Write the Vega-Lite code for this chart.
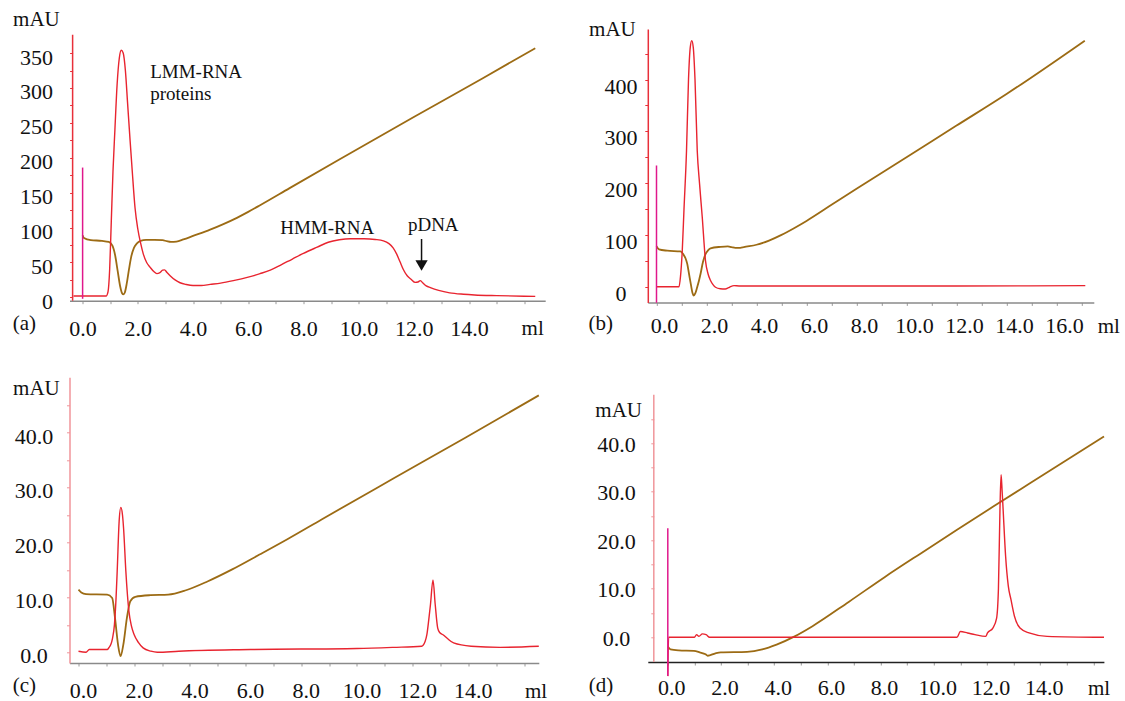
{
  "$schema": "https://vega.github.io/schema/vega-lite/v6.json",
  "padding": {"left": 12.5, "top": 8, "right": 0, "bottom": 0},
  "bounds": "flush",
  "columns": 2,
  "spacing": {"row": 74.3, "column": 102.3},
  "config": {
    "view": {"stroke": null},
    "font": "Liberation Serif",
    "text": {"font": "Liberation Serif"},
    "axis": {
      "grid": false, "labelFont": "Liberation Serif", "labelFontSize": 22, "labelColor": "#111111",
      "titleFont": "Liberation Serif", "titleFontSize": 21, "titleFontWeight": "normal", "titleColor": "#111111",
      "labelOverlap": false, "labelFlush": false, "labelBound": false, "tickSize": 3, "tickWidth": 1
    },
    "axisX": {"domainColor": "#8a8a8a", "domainWidth": 1.5, "tickColor": "#9a9a9a", "labelAlign": "center", "labelBaseline": "alphabetic", "titleAlign": "center", "titleBaseline": "alphabetic"},
    "axisY": {"domainColor": "#e8303a", "domainWidth": 1.5, "tickColor": "#e8303a", "labelBaseline": "middle", "titleAngle": 0, "titleAlign": "center", "titleBaseline": "alphabetic"}
  },
  "datasets": {
    "aU": [
      {"x": -0.33, "y": 2}, {"x": 0.85, "y": 2}, {"x": 0.92, "y": 8}, {"x": 0.98, "y": 40}, {"x": 1.04, "y": 110}, {"x": 1.1, "y": 180}, {"x": 1.17, "y": 240}, {"x": 1.25, "y": 305}, {"x": 1.33, "y": 343}, {"x": 1.4, "y": 354}, {"x": 1.47, "y": 350}, {"x": 1.55, "y": 325}, {"x": 1.63, "y": 278}, {"x": 1.72, "y": 225}, {"x": 1.8, "y": 180}, {"x": 1.9, "y": 128}, {"x": 2.0, "y": 98}, {"x": 2.1, "y": 78}, {"x": 2.2, "y": 62}, {"x": 2.32, "y": 50}, {"x": 2.45, "y": 43}, {"x": 2.58, "y": 37}, {"x": 2.69, "y": 34}, {"x": 2.8, "y": 35.5}, {"x": 2.9, "y": 39}, {"x": 2.97, "y": 39.5}, {"x": 3.05, "y": 36}, {"x": 3.17, "y": 31}, {"x": 3.35, "y": 25}, {"x": 3.53, "y": 21}, {"x": 3.75, "y": 18.5}, {"x": 4.0, "y": 17}, {"x": 4.3, "y": 17}, {"x": 4.62, "y": 18.6}, {"x": 5.0, "y": 20.5}, {"x": 5.46, "y": 24}, {"x": 6.0, "y": 29}, {"x": 6.43, "y": 34}, {"x": 6.8, "y": 39}, {"x": 7.16, "y": 46}, {"x": 7.6, "y": 55}, {"x": 8.0, "y": 63}, {"x": 8.5, "y": 72}, {"x": 8.9, "y": 79}, {"x": 9.3, "y": 82.5}, {"x": 9.7, "y": 84}, {"x": 10.2, "y": 84}, {"x": 10.6, "y": 83}, {"x": 10.9, "y": 81}, {"x": 11.1, "y": 77}, {"x": 11.25, "y": 71}, {"x": 11.38, "y": 62}, {"x": 11.5, "y": 51}, {"x": 11.62, "y": 40}, {"x": 11.76, "y": 31}, {"x": 11.9, "y": 26}, {"x": 12.05, "y": 21.5}, {"x": 12.15, "y": 22}, {"x": 12.23, "y": 24}, {"x": 12.32, "y": 21}, {"x": 12.45, "y": 16.5}, {"x": 12.6, "y": 14}, {"x": 12.9, "y": 10}, {"x": 13.3, "y": 6.5}, {"x": 13.8, "y": 4.5}, {"x": 14.2, "y": 3.5}, {"x": 15.0, "y": 2.5}, {"x": 16.4, "y": 1.5}
    ],
    "aC": [
      {"x": 0, "y": 89}, {"x": 0.05, "y": 85}, {"x": 0.3, "y": 82}, {"x": 0.7, "y": 81}, {"x": 0.95, "y": 79.5}, {"x": 1.08, "y": 74}, {"x": 1.18, "y": 60}, {"x": 1.27, "y": 38}, {"x": 1.36, "y": 16}, {"x": 1.43, "y": 6}, {"x": 1.48, "y": 4.3}, {"x": 1.53, "y": 7}, {"x": 1.6, "y": 20}, {"x": 1.68, "y": 40}, {"x": 1.76, "y": 58}, {"x": 1.86, "y": 71}, {"x": 1.96, "y": 77}, {"x": 2.1, "y": 81}, {"x": 2.3, "y": 82.5}, {"x": 2.6, "y": 82.5}, {"x": 2.9, "y": 82}, {"x": 3.05, "y": 80.5}, {"x": 3.2, "y": 79.5}, {"x": 3.4, "y": 80}, {"x": 3.65, "y": 83}, {"x": 4.0, "y": 88}, {"x": 4.62, "y": 97}, {"x": 5.1, "y": 105}, {"x": 5.59, "y": 114}, {"x": 6.0, "y": 122.5}, {"x": 6.43, "y": 132}, {"x": 7.5, "y": 156.5}, {"x": 9.3, "y": 197.5}, {"x": 12.0, "y": 258.5}, {"x": 14.5, "y": 314}, {"x": 16.4, "y": 357}
    ],
    "bU": [
      {"x": 0, "y": 0}, {"x": 0.9, "y": 0}, {"x": 0.96, "y": 20}, {"x": 1.03, "y": 69}, {"x": 1.1, "y": 150}, {"x": 1.2, "y": 262}, {"x": 1.28, "y": 400}, {"x": 1.35, "y": 462}, {"x": 1.41, "y": 475}, {"x": 1.47, "y": 462}, {"x": 1.54, "y": 400}, {"x": 1.63, "y": 262}, {"x": 1.72, "y": 200}, {"x": 1.83, "y": 134}, {"x": 1.96, "y": 50}, {"x": 2.06, "y": 25}, {"x": 2.16, "y": 12}, {"x": 2.26, "y": 4}, {"x": 2.36, "y": -1}, {"x": 2.55, "y": -4}, {"x": 2.75, "y": -4.5}, {"x": 2.88, "y": -2}, {"x": 2.96, "y": 0}, {"x": 3.1, "y": 2}, {"x": 3.3, "y": 1.5}, {"x": 6, "y": 1.5}, {"x": 12, "y": 1.5}, {"x": 17.15, "y": 2}
    ],
    "bC": [
      {"x": 0, "y": 78}, {"x": 0.1, "y": 72}, {"x": 0.43, "y": 69.5}, {"x": 0.96, "y": 68}, {"x": 1.08, "y": 62}, {"x": 1.16, "y": 55}, {"x": 1.23, "y": 44}, {"x": 1.3, "y": 25}, {"x": 1.38, "y": 3}, {"x": 1.44, "y": -12}, {"x": 1.49, "y": -17}, {"x": 1.55, "y": -13}, {"x": 1.62, "y": -2}, {"x": 1.7, "y": 12}, {"x": 1.76, "y": 24.5}, {"x": 1.86, "y": 48}, {"x": 1.96, "y": 63}, {"x": 2.06, "y": 70}, {"x": 2.16, "y": 74}, {"x": 2.56, "y": 77}, {"x": 2.85, "y": 78}, {"x": 3.0, "y": 76.5}, {"x": 3.15, "y": 75}, {"x": 3.35, "y": 75}, {"x": 3.49, "y": 76.5}, {"x": 4.0, "y": 81}, {"x": 4.5, "y": 89}, {"x": 5.0, "y": 100}, {"x": 5.5, "y": 113}, {"x": 6.0, "y": 127}, {"x": 7.0, "y": 158}, {"x": 8.0, "y": 189}, {"x": 10.0, "y": 250}, {"x": 12.0, "y": 311}, {"x": 14.0, "y": 372}, {"x": 17.13, "y": 475}
    ],
    "cU": [
      {"x": 0, "y": 0.2}, {"x": 0.27, "y": 0}, {"x": 0.39, "y": 0.5}, {"x": 1.03, "y": 0.5}, {"x": 1.1, "y": 0.9}, {"x": 1.16, "y": 1.4}, {"x": 1.22, "y": 2.5}, {"x": 1.29, "y": 5.0}, {"x": 1.35, "y": 10}, {"x": 1.39, "y": 14.8}, {"x": 1.46, "y": 23.9}, {"x": 1.52, "y": 26.4}, {"x": 1.58, "y": 25}, {"x": 1.62, "y": 22.5}, {"x": 1.7, "y": 14.8}, {"x": 1.81, "y": 7.5}, {"x": 1.9, "y": 4.8}, {"x": 2.0, "y": 3.2}, {"x": 2.15, "y": 1.8}, {"x": 2.32, "y": 0.8}, {"x": 2.6, "y": 0.2}, {"x": 2.83, "y": 0}, {"x": 3.6, "y": 0.2}, {"x": 6.17, "y": 0.5}, {"x": 10.0, "y": 0.7}, {"x": 11.3, "y": 0.9}, {"x": 12.32, "y": 1.1}, {"x": 12.45, "y": 2.0}, {"x": 12.51, "y": 3.2}, {"x": 12.58, "y": 6}, {"x": 12.64, "y": 8.7}, {"x": 12.73, "y": 13.2}, {"x": 12.81, "y": 8.7}, {"x": 12.9, "y": 4.4}, {"x": 12.97, "y": 3.6}, {"x": 13.09, "y": 3.2}, {"x": 13.25, "y": 2.5}, {"x": 13.47, "y": 1.7}, {"x": 14.1, "y": 1.1}, {"x": 15.14, "y": 0.9}, {"x": 16.53, "y": 1.1}
    ],
    "cC": [
      {"x": 0, "y": 11.4}, {"x": 0.1, "y": 10.9}, {"x": 0.27, "y": 10.6}, {"x": 1.03, "y": 10.5}, {"x": 1.21, "y": 9.9}, {"x": 1.31, "y": 6.3}, {"x": 1.42, "y": 1.4}, {"x": 1.51, "y": -0.7}, {"x": 1.61, "y": 1.4}, {"x": 1.74, "y": 6.3}, {"x": 1.86, "y": 9.3}, {"x": 2.04, "y": 10.1}, {"x": 2.58, "y": 10.4}, {"x": 3.22, "y": 10.5}, {"x": 3.86, "y": 11.3}, {"x": 4.63, "y": 12.9}, {"x": 5.52, "y": 15.1}, {"x": 6.5, "y": 17.8}, {"x": 7.5, "y": 20.6}, {"x": 8.73, "y": 24.2}, {"x": 11.29, "y": 31.6}, {"x": 13.86, "y": 39.0}, {"x": 16.53, "y": 46.8}
    ],
    "dU": [
      {"x": 0, "y": -8}, {"x": 0.03, "y": 0}, {"x": 1.0, "y": 0}, {"x": 1.08, "y": 0.55}, {"x": 1.17, "y": 0.2}, {"x": 1.3, "y": 0.7}, {"x": 1.44, "y": 0.55}, {"x": 1.57, "y": 0}, {"x": 10.87, "y": 0}, {"x": 11.0, "y": 1.2}, {"x": 11.27, "y": 0.9}, {"x": 11.55, "y": 0.55}, {"x": 11.95, "y": 0.2}, {"x": 12.02, "y": 0.9}, {"x": 12.22, "y": 1.9}, {"x": 12.36, "y": 3.9}, {"x": 12.43, "y": 10}, {"x": 12.49, "y": 27}, {"x": 12.53, "y": 33.5}, {"x": 12.57, "y": 30}, {"x": 12.6, "y": 27}, {"x": 12.7, "y": 16.7}, {"x": 12.8, "y": 10.6}, {"x": 12.9, "y": 7.8}, {"x": 13.03, "y": 4.4}, {"x": 13.24, "y": 1.9}, {"x": 13.58, "y": 0.9}, {"x": 14.26, "y": 0.2}, {"x": 16.4, "y": 0}
    ],
    "dC": [
      {"x": 0, "y": -1.9}, {"x": 0.1, "y": -2.5}, {"x": 0.41, "y": -2.7}, {"x": 0.98, "y": -2.8}, {"x": 1.2, "y": -3.1}, {"x": 1.42, "y": -3.5}, {"x": 1.5, "y": -3.8}, {"x": 1.79, "y": -3.3}, {"x": 1.99, "y": -3.1}, {"x": 2.98, "y": -3.0}, {"x": 3.55, "y": -2.5}, {"x": 4.09, "y": -1.5}, {"x": 4.77, "y": 0.2}, {"x": 5.44, "y": 2.3}, {"x": 6.8, "y": 7.3}, {"x": 8.15, "y": 12.4}, {"x": 9.51, "y": 17.3}, {"x": 10.86, "y": 22.1}, {"x": 12.22, "y": 26.9}, {"x": 13.57, "y": 31.6}, {"x": 16.4, "y": 41.4}
    ]
  },
  "concat": [
    {
      "width": 475.7, "height": 271.7,
      "layer": [
        {"data": {"name": "aC"}, "mark": {"type": "line", "color": "#9c6b14", "strokeWidth": 1.8, "interpolate": "monotone"},
         "encoding": {
           "x": {"field": "x", "type": "quantitative", "scale": {"domain": [-0.475, 16.76], "nice": false, "zero": false},
                 "axis": {"title": "ml", "titleX": 462.7, "titleY": 34, "titleFontSize": 21, "labelFontSize": 22, "labelOverlap": false, "tickCount": 100, "values": [0,1,2,3,4,5,6,7,8,9,10,11,12,13,14,15,16], "format": ".1f", "labelExpr": "datum.value % 2 === 0 && datum.value <= 14 ? datum.label : ''", "labelPadding": 32, "labelOffset": 0}},
           "y": {"field": "y", "type": "quantitative", "scale": {"domain": [-4.73, 384.5], "nice": false, "zero": false},
                 "axis": {"title": "mAU", "titleX": -36.7, "titleY": -3.3, "titleFontSize": 21, "labelFontSize": 22, "labelOverlap": false, "tickCount": 100, "offset": -3.1, "domain": false, "values": [0,25,50,75,100,125,150,175,200,225,250,275,300,325,350], "labelExpr": "datum.value % 50 === 0 ? datum.label : ''", "labelAlign": "right", "labelPadding": 17, "labelOffset": 4}}
         }},
        {"data": {"name": "aU"}, "mark": {"type": "line", "color": "#e8242f", "strokeWidth": 1.4, "interpolate": "monotone"},
         "encoding": {"x": {"field": "x", "type": "quantitative"}, "y": {"field": "y", "type": "quantitative"}}},
        {"data": {"values": [{"x": 0, "y": -2, "y2": 186}]}, "mark": {"type": "rule", "color": "#e0188c", "strokeWidth": 1.5},
         "encoding": {"x": {"field": "x", "type": "quantitative"}, "y": {"field": "y", "type": "quantitative"}, "y2": {"field": "y2"}}},
        {"data": {"values": [{}]}, "mark": {"type": "rule", "color": "#e8303a", "strokeWidth": 1.5},
         "encoding": {"x": {"datum": -0.362, "type": "quantitative"}, "y": {"datum": -4.73, "type": "quantitative"}, "y2": {"datum": 376.4}}},
        {"data": {"values": [{}]}, "mark": {"type": "text", "text": "(a)", "align": "center", "baseline": "alphabetic", "fontSize": 21, "font": "Liberation Serif", "color": "#111111"},
         "encoding": {"x": {"datum": -2.112, "type": "quantitative"}, "y": {"datum": -46.56, "type": "quantitative"}}},
        {"data": {"values": [{}]}, "mark": {"type": "text", "text": "LMM-RNA", "align": "left", "baseline": "alphabetic", "fontSize": 19, "font": "Liberation Serif", "color": "#111111"},
         "encoding": {"x": {"datum": 2.449, "type": "quantitative"}, "y": {"datum": 314.3, "type": "quantitative"}}},
        {"data": {"values": [{}]}, "mark": {"type": "text", "text": "proteins", "align": "left", "baseline": "alphabetic", "fontSize": 19, "font": "Liberation Serif", "color": "#111111"},
         "encoding": {"x": {"datum": 2.449, "type": "quantitative"}, "y": {"datum": 283.2, "type": "quantitative"}}},
        {"data": {"values": [{}]}, "mark": {"type": "text", "text": "HMM-RNA", "align": "left", "baseline": "alphabetic", "fontSize": 19, "font": "Liberation Serif", "color": "#111111"},
         "encoding": {"x": {"datum": 7.159, "type": "quantitative"}, "y": {"datum": 90.8, "type": "quantitative"}}},
        {"data": {"values": [{}]}, "mark": {"type": "text", "text": "pDNA", "align": "left", "baseline": "alphabetic", "fontSize": 19, "font": "Liberation Serif", "color": "#111111"},
         "encoding": {"x": {"datum": 11.786, "type": "quantitative"}, "y": {"datum": 95.6, "type": "quantitative"}}},
        {"data": {"values": [{}]}, "mark": {"type": "rule", "color": "#111111", "strokeWidth": 1.5},
         "encoding": {"x": {"datum": 12.28, "type": "quantitative"}, "y": {"datum": 83.7, "type": "quantitative"}, "y2": {"datum": 50}}},
        {"data": {"values": [{}]}, "mark": {"type": "point", "shape": "triangle-down", "filled": true, "color": "#111111", "opacity": 1, "size": 150},
         "encoding": {"x": {"datum": 12.28, "type": "quantitative"}, "y": {"datum": 45.7, "type": "quantitative"}}}
      ]
    },
    {
      "width": 446, "height": 273.4,
      "layer": [
        {"data": {"name": "bC"}, "mark": {"type": "line", "color": "#9c6b14", "strokeWidth": 1.8, "interpolate": "monotone"},
         "encoding": {
           "x": {"field": "x", "type": "quantitative", "scale": {"domain": [-0.348, 17.49], "nice": false, "zero": false},
                 "axis": {"title": "ml", "titleX": 460.5, "titleY": 30, "titleFontSize": 21, "labelFontSize": 22, "labelOverlap": false, "tickCount": 100, "values": [0,1,2,3,4,5,6,7,8,9,10,11,12,13,14,15,16,17], "format": ".1f", "labelExpr": "datum.value % 2 === 0 ? datum.label : ''", "labelPadding": 27, "labelOffset": 7.5}},
           "y": {"field": "y", "type": "quantitative", "scale": {"domain": [-30.3, 497.5], "nice": false, "zero": false},
                 "axis": {"title": "mAU", "titleX": -35.9, "titleY": 6.7, "titleFontSize": 21, "labelFontSize": 22, "labelOverlap": false, "tickCount": 100, "values": [0,50,100,150,200,250,300,350,400,450], "labelExpr": "datum.value % 100 === 0 ? datum.label : ''", "labelAlign": "center", "labelPadding": 24.3, "labelOffset": 6.5}}
         }},
        {"data": {"name": "bU"}, "mark": {"type": "line", "color": "#e8242f", "strokeWidth": 1.4, "interpolate": "monotone"},
         "encoding": {"x": {"field": "x", "type": "quantitative"}, "y": {"field": "y", "type": "quantitative"}}},
        {"data": {"values": [{"x": 0, "y": -31, "y2": 234}]}, "mark": {"type": "rule", "color": "#e0188c", "strokeWidth": 1.5},
         "encoding": {"x": {"field": "x", "type": "quantitative"}, "y": {"field": "y", "type": "quantitative"}, "y2": {"field": "y2"}}},
        {"data": {"values": [{}]}, "mark": {"type": "text", "text": "(b)", "align": "center", "baseline": "alphabetic", "fontSize": 21, "font": "Liberation Serif", "color": "#111111"},
         "encoding": {"x": {"datum": -2.232, "type": "quantitative"}, "y": {"datum": -83.98, "type": "quantitative"}}}
      ]
    },
    {
      "width": 469.3, "height": 285.7,
      "layer": [
        {"data": {"name": "cC"}, "mark": {"type": "line", "color": "#9c6b14", "strokeWidth": 1.8, "interpolate": "monotone"},
         "encoding": {
           "x": {"field": "x", "type": "quantitative", "scale": {"domain": [-0.323, 16.53], "nice": false, "zero": false},
                 "axis": {"title": "ml", "titleX": 466.1, "titleY": 34.3, "titleFontSize": 21, "labelFontSize": 22, "labelOverlap": false, "tickCount": 100, "values": [0,1,2,3,4,5,6,7,8,9,10,11,12,13,14,15,16], "format": ".1f", "labelExpr": "datum.value % 2 === 0 && datum.value <= 14 ? datum.label : ''", "labelPadding": 31.3, "labelOffset": 4.5}},
           "y": {"field": "y", "type": "quantitative", "scale": {"domain": [-1.95, 50.09], "nice": false, "zero": false},
                 "axis": {"title": "mAU", "titleX": -33.6, "titleY": 16.7, "titleFontSize": 21, "labelFontSize": 22, "labelOverlap": false, "tickCount": 100, "domainColor": "#f0959a", "tickColor": "#f0959a", "format": ".1f", "values": [0,5,10,15,20,25,30,35,40,45], "labelExpr": "datum.value % 10 === 0 ? datum.label : ''", "labelAlign": "center", "labelPadding": 33, "labelOffset": 3.4}}
         }},
        {"data": {"name": "cU"}, "mark": {"type": "line", "color": "#e8242f", "strokeWidth": 1.4, "interpolate": "monotone"},
         "encoding": {"x": {"field": "x", "type": "quantitative"}, "y": {"field": "y", "type": "quantitative"}}},
        {"data": {"values": [{}]}, "mark": {"type": "text", "text": "(c)", "align": "center", "baseline": "alphabetic", "fontSize": 21, "font": "Liberation Serif", "color": "#111111"},
         "encoding": {"x": {"datum": -1.946, "type": "quantitative"}, "y": {"datum": -7.286, "type": "quantitative"}}}
      ]
    },
    {
      "width": 456.1, "height": 284.7,
      "layer": [
        {"data": {"name": "dC"}, "mark": {"type": "line", "color": "#9c6b14", "strokeWidth": 1.8, "interpolate": "monotone"},
         "encoding": {
           "x": {"field": "x", "type": "quantitative", "scale": {"domain": [-0.752, 16.395], "nice": false, "zero": false},
                 "axis": {"title": "ml", "titleX": 450.8, "titleY": 32.6, "titleFontSize": 21, "labelFontSize": 22, "labelOverlap": false, "tickCount": 100, "domainColor": "#222222", "values": [0,1,2,3,4,5,6,7,8,9,10,11,12,13,14,15,16], "format": ".1f", "labelExpr": "datum.value % 2 === 0 && datum.value <= 14 ? datum.label : ''", "labelPadding": 29.6, "labelOffset": 3.5}},
           "y": {"field": "y", "type": "quantitative", "scale": {"domain": [-5.09, 53.6], "nice": false, "zero": false},
                 "axis": {"title": "mAU", "titleX": -35.6, "titleY": 39, "titleFontSize": 21, "labelFontSize": 22, "labelOverlap": false, "tickCount": 100, "offset": -6, "domain": false, "tickColor": "#f0959a", "format": ".1f", "values": [0,5,10,15,20,25,30,35,40,45], "labelExpr": "datum.value % 10 === 0 ? datum.label : ''", "labelAlign": "center", "labelPadding": 34.8, "labelOffset": 1}}
         }},
        {"data": {"name": "dU"}, "mark": {"type": "line", "color": "#e8242f", "strokeWidth": 1.4, "interpolate": "monotone"},
         "encoding": {"x": {"field": "x", "type": "quantitative"}, "y": {"field": "y", "type": "quantitative"}}},
        {"data": {"values": [{"x": 0, "y": -8, "y2": 22.5}]}, "mark": {"type": "rule", "color": "#e0188c", "strokeWidth": 1.5},
         "encoding": {"x": {"field": "x", "type": "quantitative"}, "y": {"field": "y", "type": "quantitative"}, "y2": {"field": "y2"}}},
        {"data": {"values": [{}]}, "mark": {"type": "rule", "color": "#f0959a", "strokeWidth": 1.5},
         "encoding": {"x": {"datum": -0.526, "type": "quantitative"}, "y": {"datum": -5.09, "type": "quantitative"}, "y2": {"datum": 50}}},
        {"data": {"values": [{}]}, "mark": {"type": "text", "text": "(d)", "align": "center", "baseline": "alphabetic", "fontSize": 21, "font": "Liberation Serif", "color": "#111111"},
         "encoding": {"x": {"datum": -2.511, "type": "quantitative"}, "y": {"datum": -11.34, "type": "quantitative"}}}
      ]
    }
  ]
}
